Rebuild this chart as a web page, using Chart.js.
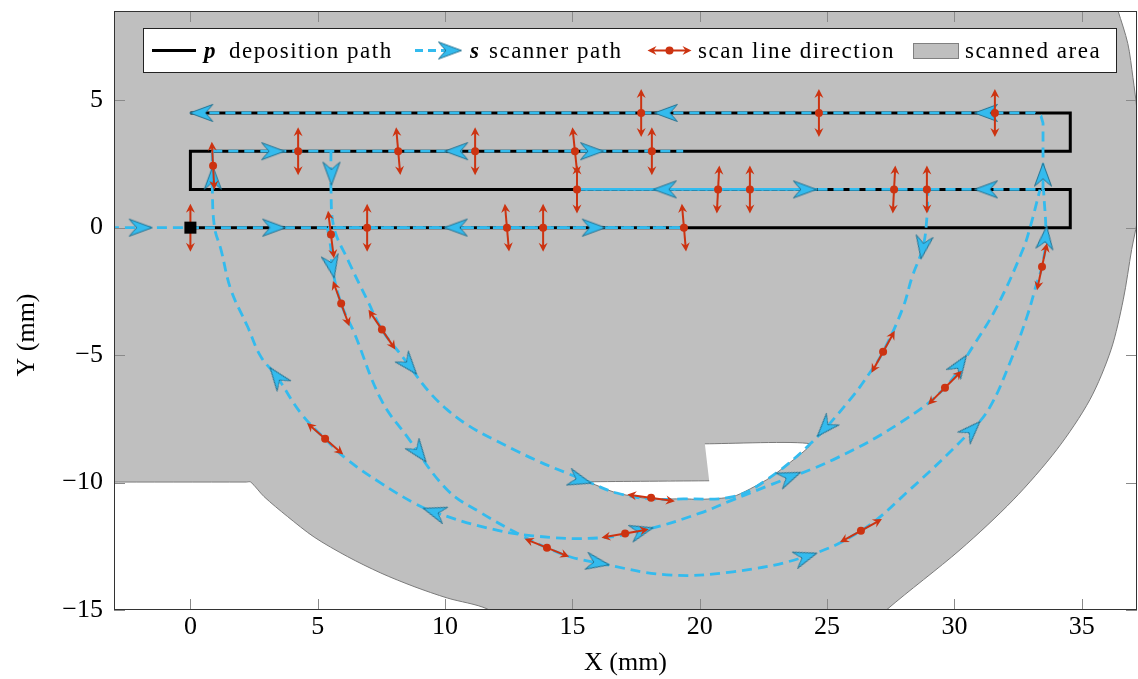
<!DOCTYPE html>
<html>
<head>
<meta charset="utf-8">
<script src="https://cdn.jsdelivr.net/npm/chart.js@4/dist/chart.umd.min.js"></script>
<style>
html, body { margin: 0; padding: 0; background: #fff; }
#caixa { width: 1138px; height: 679px; }
</style>
</head>
<body>
<div id="caixa"><canvas id="grafico" width="1138" height="679"></canvas></div>
<script>
// eixos
var xTicks = [0, 5, 10, 15, 20, 25, 30, 35];
var yTicks = [-15, -10, -5, 0, 5];

// caminho de deposicao p
var depX = [0, 34.55, 34.55, 0, 0, 34.55, 34.55, 0];
var depY = [0, 0, 1.5, 1.5, 3, 3, 4.5, 4.5];

// trechos retos do scanner s
var linha0X = [-3.2, 19.38];
var linha0Y = [0, 0];
var linha0bX = [5.4, 19.38];
var linha0bY = [0, 0];
var linha3X = [0.86, 19.35];
var linha3Y = [3, 3];
var linha15X = [15.2, 33.48];
var linha15Y = [1.5, 1.5];
var linha15bX = [15.2, 24.6];
var linha15bY = [1.5, 1.5];
var topoX = [33.48, 33.48, 33.4, 33.15, 0];
var topoY = [1.5, 4.1, 4.38, 4.5, 4.5];

// arcos do scanner
var arcoEsqX = [0.86, 0.86, 0.95, 1.2, 1.59, 2.24, 2.76, 3.4, 4.33, 5.28, 6.16, 7.48, 8.78, 9.57, 11.4, 13.45, 16.08, 18.04, 20.01, 21.3, 22.63, 25.25, 27.86, 29.62, 30.72, 31.67, 32.69, 32.97, 33.36];
var arcoEsqY = [3, 1.5, 0, -0.86, -2.43, -3.87, -5.05, -5.85, -7.27, -8.28, -9.1, -10.02, -10.8, -11.15, -11.72, -12.09, -12.17, -11.81, -11.2, -10.68, -10.15, -9.1, -7.66, -6.28, -4.67, -3.1, -0.86, 0, 1.49];
var arcoMeioX = [5.38, 5.52, 5.56, 5.92, 6.43, 7.49, 8.51, 10.08, 11.42, 12.95, 14.0, 14.9, 16.0, 18.71, 21.3, 24.13, 26.33, 28.25, 30.69, 31.4, 32.18, 32.85, 33.24, 33.44, 33.59, 33.5];
var arcoMeioY = [0, -0.86, -1.53, -2.98, -4.12, -6.75, -8.2, -10.28, -11.19, -12.05, -12.56, -12.91, -13.15, -13.62, -13.5, -12.91, -11.89, -10.28, -7.93, -7.03, -5.3, -3.49, -2.16, -1.53, -0.39, 1.5];
var arcoIntX = [5.52, 5.52, 5.64, 6.2, 6.94, 7.52, 8.11, 10.08, 12.71, 15.69, 16.74, 18.05, 19.36, 21.32, 22.63, 24.33, 25.9, 26.68, 27.2, 27.98, 28.33, 28.76, 28.92, 28.96];
var arcoIntY = [3, 1.5, 0, -1.3, -2.83, -4.0, -4.79, -7.14, -8.71, -10.0, -10.41, -10.64, -10.64, -10.55, -9.89, -8.49, -6.75, -5.69, -4.87, -3.14, -1.96, -0.78, 0.39, 1.5];

// setas do scanner (angulo em graus, anti-horario)
var setaX = [-1.95, 3.29, 10.42, 15.84, 0.43, 3.25, 10.44, 15.77, 18.67, 31.24, 18.63, 24.13, 31.24, 0.88, 5.54, 5.56, 33.48, 33.58, 28.76, 3.4, 8.59, 8.98, 9.57, 15.3, 17.73, 16.0, 23.54, 24.92, 24.17, 30.22, 30.69];
var setaY = [0, 0, 0, 0, 4.5, 3, 3, 3, 4.5, 4.5, 1.5, 1.5, 1.5, 1.96, 2.12, -1.53, 2.08, -0.39, -0.78, -5.85, -5.4, -8.83, -11.15, -9.9, -11.89, -13.15, -9.77, -7.85, -12.91, -5.38, -7.93];
var setaAng = [0, 0, 180, 0, 180, 0, 180, 0, 180, 180, 180, 0, 180, 90, -90, -79, 90, 84, -99, 127, -50, -53, 162, -16, 15, -10, 22, -132, 18, 56, 46];

// direcao das linhas de varredura
var scanX = [17.7, 24.68, 31.59, 0.89, 4.23, 8.16, 11.18, 15.1, 18.12, 15.18, 20.72, 21.97, 27.63, 28.92, 0, 5.52, 6.94, 12.43, 13.85, 19.38, 5.92, 7.52, 5.29, 18.09, 17.07, 14.0, 26.33, 27.2, 29.63, 33.44];
var scanY = [4.5, 4.5, 4.5, 2.43, 3, 3, 3, 3, 3, 1.5, 1.5, 1.5, 1.5, 1.5, 0, -0.27, 0, 0, 0, 0, -2.98, -4.0, -8.28, -10.6, -12.0, -12.56, -11.89, -4.87, -6.28, -1.53];
var scanAng = [90, 90, 90, 93, 90, 95, 90, 96, 90, 90, 87, 90, 87, 90, 90, 97, 90, 95, 90, 95, 110, 124, 139, -8, 10, -22, 29, 61, 45, 78];

// area escaneada e recorte branco
var areaX = [-3.5, 36.25, 36.42, 36.81, 37.01, 37.17, 37.29, 37.25, 36.96, 36.63, 36.15, 35.32, 34.02, 32.31, 30.22, 27.34, 26.9, 12.2, 11.66, 10.09, 8.78, 7.48, 6.16, 4.86, 3.81, 2.89, 2.37, 2.2, -3.5];
var areaY = [9, 9, 8.52, 7.22, 5.89, 4.59, 2.67, 0.71, -0.86, -2.83, -4.79, -6.75, -8.71, -10.68, -12.64, -14.99, -15.5, -15.5, -14.96, -14.53, -14.08, -13.55, -12.9, -12.14, -11.33, -10.55, -9.98, -9.98, -9.98];
var recorteX = [20.2, 24.33, 23.5, 22.63, 21.32, 20.01, 19.36, 18.05, 16.74, 15.69, 15.69, 20.37];
var recorteY = [-8.48, -8.48, -9.25, -9.89, -10.55, -10.66, -10.64, -10.64, -10.41, -10.0, -9.97, -9.93];

var serif = '"Liberation Serif", "Times New Roman", serif';
var azul = '#33BBEE';
var vermelho = '#CC3311';
var cinza = '#bfbfbf';

function pts(xs, ys) {
    return xs.map(function (x, i) { return { x: x, y: ys[i] }; });
}

function rotulo(v) {
    return v < 0 ? '\u2212' + Math.abs(v) : String(v);
}

// ponta de seta azul
function criarChevron() {
    var c = document.createElement('canvas');
    c.width = 26;
    c.height = 20;
    var g = c.getContext('2d');
    g.beginPath();
    g.moveTo(24.5, 10);
    g.lineTo(1.5, 1.5);
    g.quadraticCurveTo(6, 7, 9, 10);
    g.quadraticCurveTo(6, 13, 1.5, 18.5);
    g.closePath();
    g.fillStyle = azul;
    g.fill();
    g.strokeStyle = '#22708f';
    g.lineWidth = 1;
    g.stroke();
    return c;
}
var chevron = criarChevron();

function setaDupla(ctx, cx, cy, a, meio) {
    var ux = Math.cos(a), uy = -Math.sin(a);
    ctx.beginPath();
    ctx.moveTo(cx - ux * (meio - 5), cy - uy * (meio - 5));
    ctx.lineTo(cx + ux * (meio - 5), cy + uy * (meio - 5));
    ctx.stroke();
    [1, -1].forEach(function (s) {
        var dx = s * ux, dy = s * uy;
        var tx = cx + dx * meio, ty = cy + dy * meio;
        var nx = -dy, ny = dx;
        ctx.beginPath();
        ctx.moveTo(tx, ty);
        ctx.lineTo(tx - dx * 9 + nx * 4.5, ty - dy * 9 + ny * 4.5);
        ctx.lineTo(tx - dx * 6, ty - dy * 6);
        ctx.lineTo(tx - dx * 9 - nx * 4.5, ty - dy * 9 - ny * 4.5);
        ctx.closePath();
        ctx.fill();
    });
}

function linhaScanner(xs, ys, tensao, offset) {
    return {
        data: pts(xs, ys),
        borderColor: azul,
        borderWidth: 2.8,
        borderDash: [10, 6],
        borderDashOffset: offset || 0,
        borderCapStyle: 'butt',
        tension: tensao,
        pointRadius: 0,
        fill: false,
        order: 7
    };
}

var datasets = [
    { data: pts(areaX, areaY), fill: 'shape', backgroundColor: cinza, borderColor: '#7a7a7a', borderWidth: 1, pointRadius: 0, tension: 0.3, order: 10 },
    { data: pts(recorteX, recorteY), fill: 'shape', backgroundColor: '#ffffff', borderColor: '#7a7a7a', borderWidth: 1, pointRadius: 0, tension: 0.2, order: 9 },
    { data: pts(depX, depY), borderColor: '#000', borderWidth: 3, borderJoinStyle: 'miter', pointRadius: 0, tension: 0, fill: false, order: 8 },
    linhaScanner(linha0X, linha0Y, 0),
    linhaScanner(linha0bX, linha0bY, 0, 8),
    linhaScanner(linha3X, linha3Y, 0),
    linhaScanner(linha15X, linha15Y, 0),
    linhaScanner(linha15bX, linha15bY, 0, 8),
    linhaScanner(topoX, topoY, 0),
    linhaScanner(arcoEsqX, arcoEsqY, 0.4),
    linhaScanner(arcoMeioX, arcoMeioY, 0.4),
    linhaScanner(arcoIntX, arcoIntY, 0.4),
    { data: pts(setaX, setaY), showLine: false, pointStyle: chevron, pointRadius: 10, pointRotation: setaAng.map(function (a) { return -a; }), order: 6 },
    { data: pts(scanX, scanY), showLine: false, pointStyle: 'circle', pointRadius: 4, pointBackgroundColor: vermelho, pointBorderWidth: 0, order: 5 },
    { data: [{ x: depX[0], y: depY[0] }], showLine: false, pointStyle: 'rect', pointRadius: 8.5, pointBackgroundColor: '#000', pointBorderWidth: 0, order: 4 }
];
var idxVermelho = 13;

var setasVermelhas = {
    id: 'setasVermelhas',
    afterDatasetDraw: function (chart, args) {
        if (args.index !== idxVermelho) return;
        var ctx = chart.ctx, sx = chart.scales.x, sy = chart.scales.y;
        ctx.save();
        ctx.strokeStyle = vermelho;
        ctx.fillStyle = vermelho;
        ctx.lineWidth = 2;
        scanX.forEach(function (x, i) {
            setaDupla(ctx, sx.getPixelForValue(x), sy.getPixelForValue(scanY[i]), scanAng[i] * Math.PI / 180, 24);
        });
        ctx.restore();
    }
};

// moldura com ticks para dentro e titulo do eixo y
var moldura = {
    id: 'moldura',
    afterDatasetsDraw: function (chart) {
        var a = chart.chartArea, ctx = chart.ctx, sx = chart.scales.x, sy = chart.scales.y;
        ctx.save();
        ctx.strokeStyle = '#8a8a8a';
        ctx.lineWidth = 1;
        ctx.beginPath();
        xTicks.forEach(function (v) {
            var p = Math.round(sx.getPixelForValue(v)) + 0.5;
            ctx.moveTo(p, a.top); ctx.lineTo(p, a.top + 11);
            ctx.moveTo(p, a.bottom); ctx.lineTo(p, a.bottom - 11);
        });
        yTicks.forEach(function (v) {
            var p = Math.round(sy.getPixelForValue(v)) + 0.5;
            ctx.moveTo(a.left, p); ctx.lineTo(a.left + 11, p);
            ctx.moveTo(a.right, p); ctx.lineTo(a.right - 11, p);
        });
        ctx.stroke();
        ctx.strokeStyle = '#333';
        ctx.strokeRect(a.left + 0.5, a.top + 0.5, a.right - a.left - 1, a.bottom - a.top - 1);

        ctx.translate(27, 335);
        ctx.rotate(-Math.PI / 2);
        ctx.fillStyle = '#000';
        ctx.font = '26px ' + serif;
        ctx.textAlign = 'center';
        ctx.textBaseline = 'middle';
        ctx.fillText('Y (mm)', 0, 0);
        ctx.restore();
    }
};

var legenda = {
    id: 'legenda',
    afterDraw: function (chart) {
        var ctx = chart.ctx;
        ctx.save();
        ctx.fillStyle = '#fff';
        ctx.strokeStyle = '#222';
        ctx.lineWidth = 1;
        ctx.fillRect(143.5, 28.5, 973, 44);
        ctx.strokeRect(143.5, 28.5, 973, 44);

        ctx.strokeStyle = '#000';
        ctx.lineWidth = 3;
        ctx.beginPath(); ctx.moveTo(152, 50.5); ctx.lineTo(196, 50.5); ctx.stroke();

        ctx.strokeStyle = azul;
        ctx.lineWidth = 2.8;
        ctx.setLineDash([8, 5]);
        ctx.beginPath(); ctx.moveTo(415, 50.5); ctx.lineTo(446, 50.5); ctx.stroke();
        ctx.setLineDash([]);
        ctx.drawImage(chevron, 450 - chevron.width / 2, 50.5 - chevron.height / 2);

        ctx.strokeStyle = vermelho;
        ctx.fillStyle = vermelho;
        ctx.lineWidth = 2;
        setaDupla(ctx, 669.5, 50.5, 0, 22);
        ctx.beginPath(); ctx.arc(669.5, 50.5, 4, 0, 2 * Math.PI); ctx.fill();

        ctx.fillStyle = cinza;
        ctx.strokeStyle = '#808080';
        ctx.lineWidth = 1;
        ctx.fillRect(913.5, 43.5, 45, 15);
        ctx.strokeRect(913.5, 43.5, 45, 15);

        ctx.fillStyle = '#000';
        ctx.textBaseline = 'alphabetic';
        ctx.letterSpacing = '1.5px';
        ctx.font = 'bold italic 23px ' + serif;
        ctx.fillText('p', 204, 58);
        ctx.fillText('s', 470, 58);
        ctx.font = '23px ' + serif;
        ctx.fillText('deposition path', 229, 58);
        ctx.fillText('scanner path', 489, 58);
        ctx.fillText('scan line direction', 698, 58);
        ctx.fillText('scanned area', 965, 58);
        ctx.restore();
    }
};

var grafico = new Chart(document.getElementById('grafico'), {
    type: 'line',
    data: { datasets: datasets },
    options: {
        responsive: false,
        animation: false,
        devicePixelRatio: 1,
        events: [],
        layout: { autoPadding: false, padding: { top: 11, right: 1, left: 0, bottom: 0 } },
        plugins: { legend: { display: false }, tooltip: { enabled: false } },
        scales: {
            x: {
                type: 'linear',
                min: -3,
                max: 37.17,
                afterBuildTicks: function (s) { s.ticks = xTicks.map(function (v) { return { value: v }; }); },
                afterFit: function (s) { s.height = 69; s.paddingLeft = 0; s.paddingRight = 0; },
                grid: { display: false, drawTicks: false },
                border: { display: false },
                ticks: { color: '#000', font: { family: serif, size: 26 }, padding: 2, maxRotation: 0, autoSkip: false, callback: rotulo },
                title: { display: true, text: 'X (mm)', color: '#000', font: { family: serif, size: 26 }, padding: { top: 0, bottom: 0 } }
            },
            y: {
                type: 'linear',
                min: -15,
                max: 8.5,
                afterBuildTicks: function (s) { s.ticks = yTicks.map(function (v) { return { value: v }; }); },
                afterFit: function (s) { s.width = 114; s.paddingTop = 0; s.paddingBottom = 0; },
                grid: { display: false, drawTicks: false },
                border: { display: false },
                ticks: { color: '#000', font: { family: serif, size: 26 }, padding: 11, autoSkip: false, callback: rotulo },
                title: { display: false }
            }
        }
    },
    plugins: [setasVermelhas, moldura, legenda]
});
</script>
</body>
</html>
